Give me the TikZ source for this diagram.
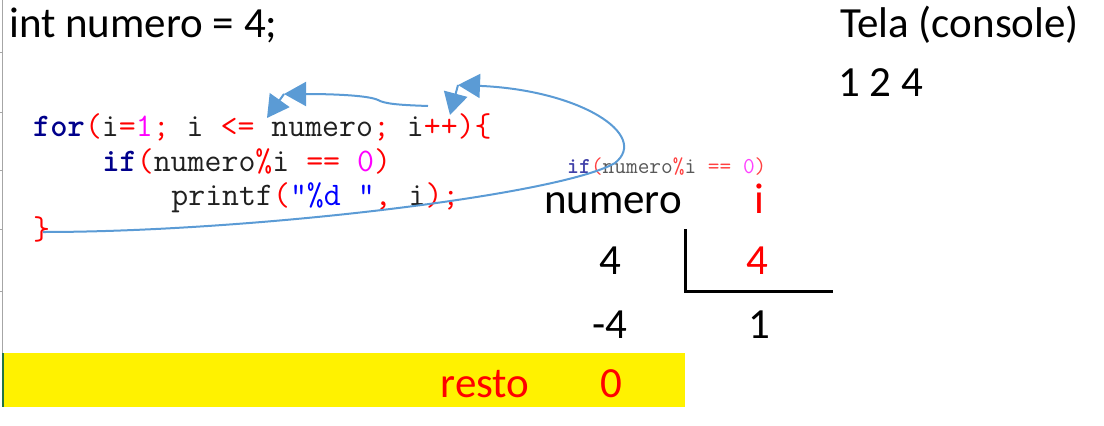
\documentclass[tikz,border=0pt]{standalone}
\usepackage{fontspec}
\setmainfont{Carlito}
\usetikzlibrary{arrows.meta}
\definecolor{kwblue}{HTML}{00008B}
\definecolor{opred}{HTML}{FF0000}
\definecolor{nummag}{HTML}{FF00FF}
\definecolor{strblue}{HTML}{0000FF}
\definecolor{codetxt}{HTML}{202020}
\definecolor{arrowblue}{HTML}{5B9BD5}
\definecolor{gridgray}{HTML}{A6A6A6}
\definecolor{xlgreen}{HTML}{217346}
\newcommand{\ckw}[1]{\textcolor{kwblue}{\textbf{#1}}}
\newcommand{\cop}[1]{\textcolor{opred}{#1}}
\newcommand{\cnum}[1]{\textcolor{nummag}{#1}}
\newcommand{\cstr}[1]{\textcolor{strblue}{#1}}
\tikzset{
  big/.style={inner sep=0pt, anchor=base, font=\fontsize{43}{50}\selectfont},
  code/.style={inner sep=0pt, anchor=base west, text=codetxt,
    font=\fontsize{32.9}{38}\selectfont\ttfamily},
  flow/.style={arrowblue, line width=2pt, -{Triangle[length=22pt,width=24pt]}},
}

\begin{document}
\begin{tikzpicture}[x=1pt,y=-1pt]
\useasboundingbox (0,0) rectangle (1104,426);

% grid edge and the yellow row
\draw[gridgray, line width=1pt] (2.5,0) -- (2.5,353);
\foreach \y in {52,112,170,229,291}
  \draw[gridgray, line width=1pt] (0,\y) -- (2.5,\y);
\fill[yellow] (3,353) rectangle (685,407);
\draw[xlgreen, line width=2pt] (2.5,353) -- (2.5,407);

\node[big, anchor=base west] (decl) at (9,37) {int numero = 4;};
\node[big, anchor=base west] (tela) at (840,37) {Tela (console)};
\node[big, anchor=base west] (saida) at (838,96) {1 2 4};

% code
\node[code] (linefor) at (33,136)
  {\ckw{for}\cop{(}i\cop{=}\cnum{1}\cop{;} i \cop{<=} numero\cop{;} i\cop{++)\{}};
\node[code] (lineif) at (102.1,171)
  {\ckw{if}\cop{(}numero\cop{\%}i \cop{==} \cnum{0}\cop{)}};
\node[code] (lineprint) at (171.2,205)
  {printf\cop{(}\cstr{"\%d "}\cop{,} i\cop{);}};
\node[code] (lineend) at (33,239) {\cop{\}}};

\node[code, font=\fontsize{22.7}{26}\selectfont\ttfamily, text opacity=0.75] (cond) at (567,173)
  {\ckw{if}\cop{(}numero\cop{\%}i \cop{==} \cnum{0}\cop{)}};

% division
\node[big] (colnum) at (613,213) {numero};
\node[big, text=red] (coli) at (759,213) {i};
\node[big] (dividendo) at (610,274) {4};
\node[big, text=red] (divisor) at (757,274) {4};
\node[big] (produto) at (610,338) {-4};
\node[big] (quociente) at (759,338) {1};
\node[big, text=red] (restolbl) at (485,397) {resto};
\node[big, text=red] (resto) at (611,397) {0};
\draw[line width=3pt] (685,229) -- (685,291) -- (833,291);

% loop arrows
\coordinate (brc) at (43,232);
\coordinate (top1) at (458,85);
\coordinate (inc) at (450,115);
\coordinate (inc2) at (428,106);
\coordinate (cmp1) at (284,94);
\coordinate (cmp2) at (267,118);

\draw[flow] (brc) .. controls (250,232) and (560,195) .. (615,163)
  .. controls (650,135) and (580,90) .. (top1);
\draw[flow] (top1) -- (inc);
\draw[flow] (inc2) .. controls (400,105) and (385,104) .. (378,100)
  .. controls (370,96) and (340,94) .. (cmp1);
\draw[flow] (cmp1) -- (cmp2);

\end{tikzpicture}
\end{document}
